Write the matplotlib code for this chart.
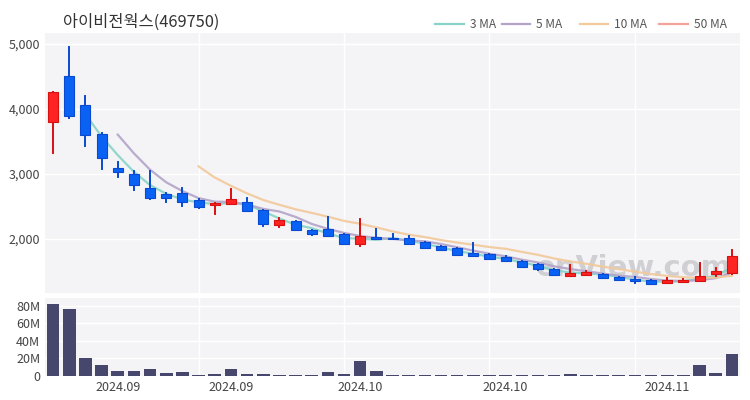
import numpy as np
import pandas as pd
import matplotlib
matplotlib.use("Agg")
import matplotlib.pyplot as plt

# 일봉 데이터
opens = [3800, 4510, 4060, 3615, 3090, 3000, 2785, 2690, 2710, 2600,
         2525, 2540, 2570, 2445, 2215, 2275, 2140, 2155, 2075, 1925,
         2030, 2015, 2015, 1955, 1890, 1860, 1785, 1770, 1725, 1660,
         1615, 1540, 1430, 1445, 1460, 1415, 1385, 1370, 1325, 1340,
         1355, 1460, 1475]
highs = [4270, 4950, 4200, 3630, 3185, 3045, 3045, 2710, 2785, 2610,
         2555, 2770, 2630, 2445, 2325, 2275, 2140, 2340, 2075, 2310,
         2155, 2075, 2045, 1955, 1890, 1860, 1940, 1770, 1740, 1660,
         1615, 1540, 1600, 1510, 1460, 1415, 1415, 1370, 1400, 1385,
         1630, 1555, 1830]
lows = [3320, 3870, 3430, 3080, 2955, 2755, 2615, 2570, 2510, 2480,
        2385, 2540, 2430, 2200, 2185, 2135, 2060, 2045, 1920, 1890,
        2000, 2000, 1920, 1860, 1830, 1755, 1738, 1690, 1660, 1570,
        1525, 1445, 1430, 1445, 1400, 1370, 1325, 1310, 1325, 1340,
        1355, 1430, 1460]
closes = [4270, 3890, 3600, 3245, 3030, 2830, 2630, 2630, 2570, 2490,
          2555, 2615, 2430, 2230, 2290, 2140, 2075, 2045, 1925, 2045,
          2000, 2000, 1925, 1860, 1830, 1755, 1738, 1690, 1660, 1570,
          1540, 1445, 1475, 1490, 1400, 1370, 1355, 1310, 1370, 1370,
          1430, 1510, 1740]
volumes_m = [82, 77, 21, 12.7, 5.8, 5.8, 8, 3.9, 4.6, 1.5,
             2.3, 8.5, 2.3, 2.3, 1.3, 1.3, 1.1, 4.6, 1.9, 17.4,
             5.4, 1.1, 1.1, 0.9, 0.9, 1.1, 1.3, 0.9, 0.9, 1.1,
             0.9, 1.6, 2.3, 0.9, 0.9, 0.9, 0.9, 0.9, 0.9, 0.9,
             12, 3.3, 25.5]
tick_pos = [4, 11, 19, 28, 38]
tick_labels = ["2024.09", "2024.09", "2024.10", "2024.10", "2024.11"]
grid_x = [9, 18, 27, 36]
ma_windows = [3, 5, 10, 50]
ma_colors = ["#86d3c8", "#b3a3c9", "#f2c99a", "#f4a19a"]

plt.rcParams['font.family'] = ['Noto Sans CJK KR', 'DejaVu Sans']

n = len(closes)
x = np.arange(n)
up_c, up_e = "#ff2323", "#d81010"
dn_c, dn_e = "#0a62f5", "#0a4ad0"
bg = "#f4f4f6"

fig = plt.figure(figsize=(7.5, 4), dpi=100)
ax = fig.add_axes([0.06, 0.2675, 0.9267, 0.65])
axv = fig.add_axes([0.06, 0.06, 0.9267, 0.195])

for a in (ax, axv):
    a.set_facecolor(bg)
    for s in a.spines.values():
        s.set_visible(False)
    a.tick_params(length=0, labelsize=9, colors="#444444")
    a.set_xlim(-0.5, 42.5)
    for g in grid_x:
        a.axvline(g, color="white", lw=1, zorder=0)

# 워터마크
ax.text(0.845, 0.33, "enView.com", fontsize=21, color="#c4c4c9", alpha=0.75,
        ha="center", va="center", fontweight="bold", family="DejaVu Sans",
        zorder=1, transform=fig.transFigure, clip_on=False)

# 캔들
for i in range(n):
    o, h, l, c = opens[i], highs[i], lows[i], closes[i]
    up = c >= o
    fc, ec = (up_c, up_e) if up else (dn_c, dn_e)
    ax.plot([i, i], [l, h], color=ec, lw=1.4, zorder=3)
    bot = min(o, c)
    hgt = max(abs(c - o), 12)
    ax.bar(i, hgt, bottom=bot, width=0.62, color=fc, edgecolor=ec, lw=0.8, zorder=4)

# 이동평균
s = pd.Series(closes, dtype=float)
for w, col in zip(ma_windows, ma_colors):
    ma = s.rolling(w).mean()
    ax.plot(x, ma, color=col, lw=1.6, alpha=0.9, zorder=2)

ax.set_ylim(1170, 5170)
ax.set_yticks([2000, 3000, 4000, 5000])
ax.set_yticklabels(["2,000", "3,000", "4,000", "5,000"])
ax.set_xticks([])
ax.grid(axis="y", color="white", lw=1)
ax.set_axisbelow(True)

# 거래량
axv.bar(x, np.array(volumes_m) * 1e6, width=0.78, color="#47476e", zorder=3)
axv.set_ylim(0, 89e6)
axv.set_yticks([0, 20e6, 40e6, 60e6, 80e6])
axv.set_yticklabels(["0", "20M", "40M", "60M", "80M"])
axv.grid(axis="y", color="white", lw=1)
axv.set_axisbelow(True)
axv.set_xticks(tick_pos)
axv.set_xticklabels(tick_labels)

# 제목
fig.text(0.084, 0.945, "아이비전웍스(469750)", fontsize=11.8, color="#333333",
         ha="left", va="center")

# 범례
leg_x = [0.58, 0.669, 0.773, 0.879]
for lx, w, col in zip(leg_x, ma_windows, ma_colors):
    fig.add_artist(plt.Line2D([lx, lx + 0.038], [0.94, 0.94], color=col, lw=1.6,
                              transform=fig.transFigure))
    fig.text(lx + 0.046, 0.94, f"{w} MA", fontsize=8.6, color="#555555",
             ha="left", va="center")

fig.savefig("out.png", dpi=100, facecolor="white")
